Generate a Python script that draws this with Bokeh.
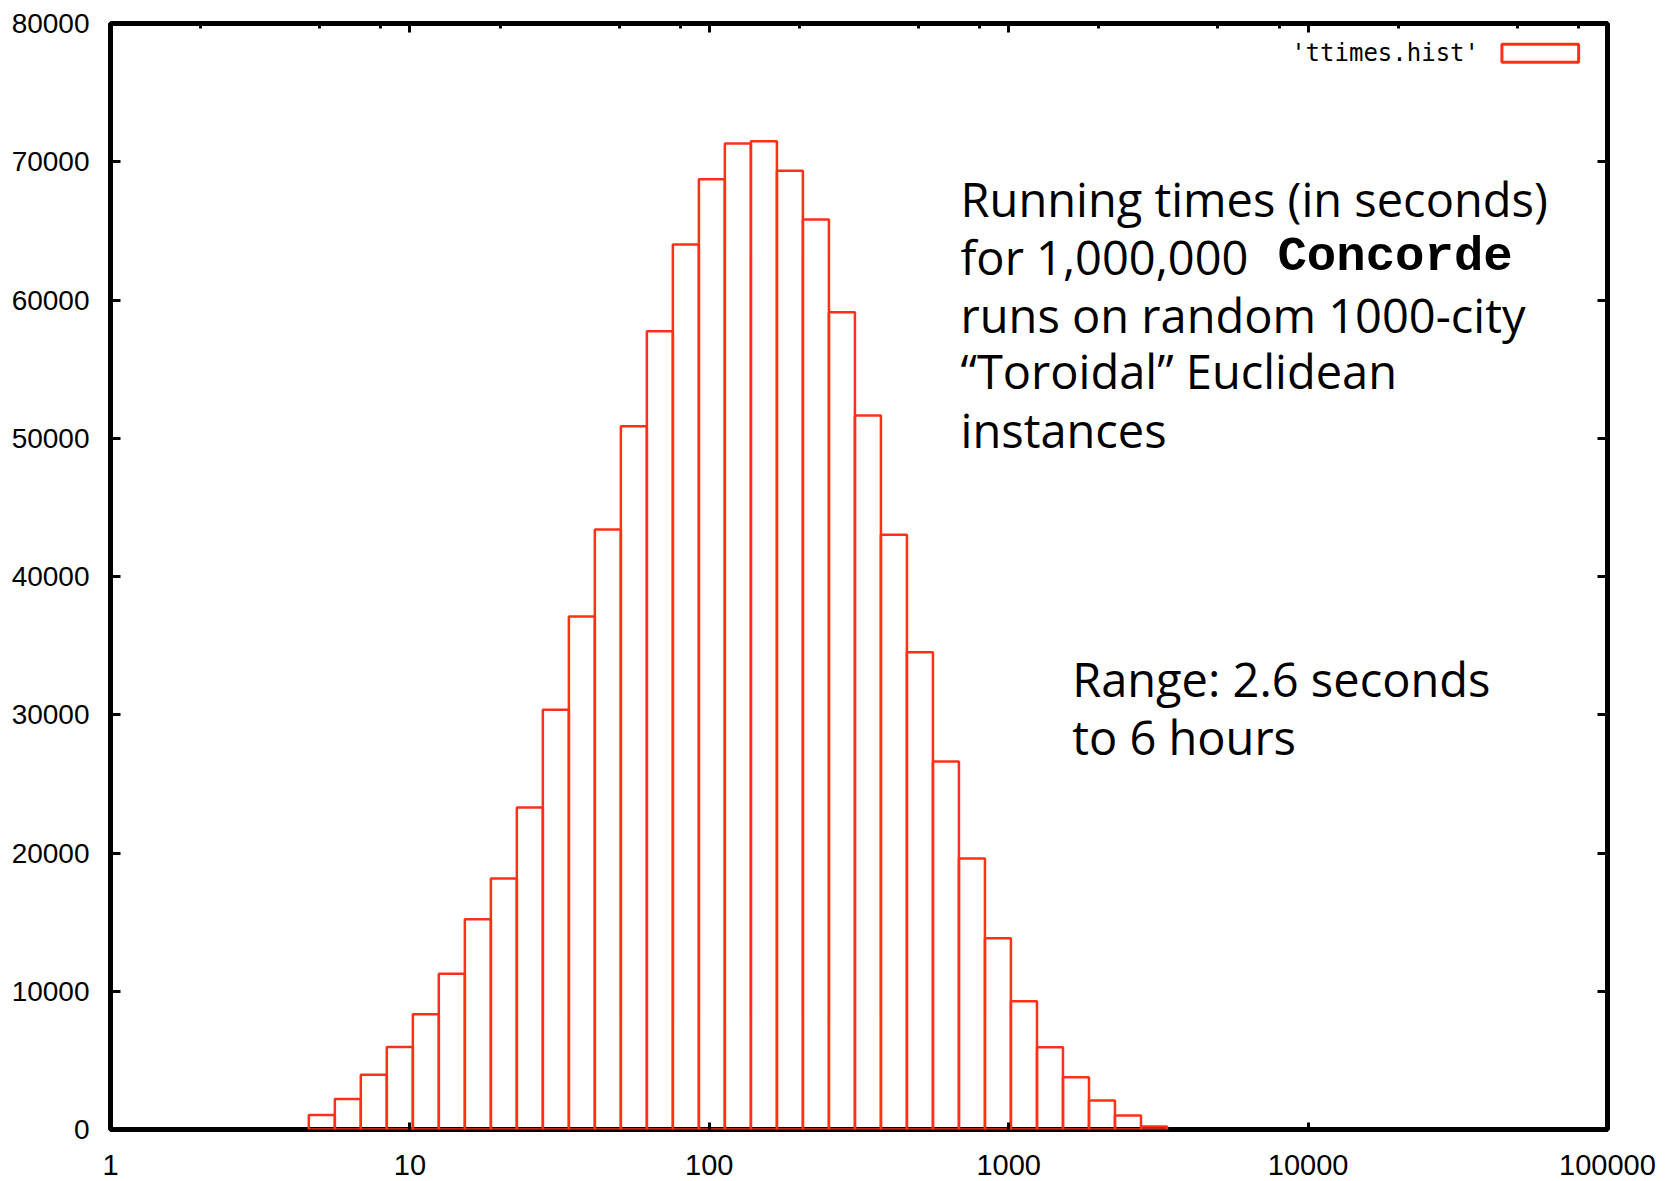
from bokeh.plotting import figure
from bokeh.models import (Range1d, FixedTicker, LogAxis, LinearAxis, NumeralTickFormatter,
                          CustomJSTickFormatter, Label, BoxAnnotation, ColumnDataSource)
from bokeh.embed import file_html
from bokeh.resources import INLINE

# ---- data ----
# histogram bin edges in seconds (log-spaced bins)
bin_edges = [4.596, 5.614, 6.855, 8.373, 10.23, 12.49, 15.26, 18.64, 22.76, 27.80,
             33.96, 41.47, 50.65, 61.87, 75.56, 92.30, 112.7, 137.7, 168.2, 205.4,
             250.9, 306.5, 374.3, 457.1, 558.4, 682.0, 833.0, 1017.0, 1243.0, 1518.0,
             1854.0, 2264.0, 2766.0, 3378.0]
# counts per bin
counts = [1040, 2200, 3960, 5970, 8330, 11270, 15200, 18160, 23300, 30360,
          37100, 43400, 50860, 57740, 64020, 68740, 71320, 71490, 69340, 65820,
          59120, 51640, 43020, 34520, 26620, 19610, 13840, 9280, 5950, 3780,
          2100, 1010, 220]

x_major_ticks = [1, 10, 100, 1000, 10000, 100000]
x_minor_mult = [2, 5, 8]
y_ticks = [0, 10000, 20000, 30000, 40000, 50000, 60000, 70000, 80000]
series_name = "'ttimes.hist'"

RED = "#ff3019"

src = ColumnDataSource(dict(left=bin_edges[:-1], right=bin_edges[1:],
                            top=counts, bottom=[0] * len(counts)))

p = figure(width=1669, height=1181, x_axis_type="log",
           x_range=Range1d(1, 100000), y_range=Range1d(0, 80000),
           output_backend="svg", toolbar_location=None,
           min_border_left=110, min_border_right=62, min_border_top=23, min_border_bottom=52)
p.grid.visible = False
p.background_fill_color = "white"
p.border_fill_color = "white"
p.outline_line_color = "black"
p.outline_line_width = 5
p.outline_line_alpha = 1.0

p.quad(left="left", right="right", top="top", bottom="bottom", source=src,
       fill_color="white", fill_alpha=0.0, line_color=RED, line_width=2.5)

tick_font = "Liberation Sans"

# bottom axis
xa = p.xaxis[0]
xa.ticker = FixedTicker(ticks=x_major_ticks, minor_ticks=[])
xa.formatter = NumeralTickFormatter(format="0")
xa.axis_line_color = None
xa.major_tick_in = 7
xa.major_tick_out = 0
xa.major_tick_line_width = 3
xa.minor_tick_in = 0
xa.minor_tick_out = 0
xa.major_label_standoff = 25
xa.major_label_text_font = tick_font
xa.major_label_text_font_size = "29px"
xa.major_label_text_color = "black"

# left axis
ya = p.yaxis[0]
ya.ticker = FixedTicker(ticks=y_ticks)
ya.formatter = NumeralTickFormatter(format="0")
ya.axis_line_color = None
ya.major_tick_in = 10
ya.major_tick_out = 0
ya.major_tick_line_width = 3
ya.minor_tick_in = 0
ya.minor_tick_out = 0
ya.major_label_standoff = 21
ya.major_label_text_font = tick_font
ya.major_label_text_font_size = "28px"
ya.major_label_text_color = "black"

# top axis (ticks only)
minor_x = [m * t for t in x_major_ticks[:-1] for m in x_minor_mult]
top_ax = LogAxis(ticker=FixedTicker(ticks=x_major_ticks, minor_ticks=minor_x),
                 formatter=CustomJSTickFormatter(code="return '';"),
                 axis_line_color=None, major_tick_in=9, major_tick_out=0,
                 major_tick_line_width=3, minor_tick_in=5, minor_tick_out=0,
                 minor_tick_line_width=3, major_label_standoff=0)
p.add_layout(top_ax, "above")

# right axis (ticks only)
right_ax = LinearAxis(ticker=FixedTicker(ticks=y_ticks),
                      formatter=CustomJSTickFormatter(code="return '';"),
                      axis_line_color=None, major_tick_in=10, major_tick_out=0,
                      major_tick_line_width=3, minor_tick_in=0, minor_tick_out=0,
                      major_label_standoff=0)
p.add_layout(right_ax, "right")

# legend (label then swatch, as in gnuplot)
p.add_layout(Label(x=37220, y=77900, text=series_name, text_align="right",
                   text_baseline="middle", text_font="DejaVu Sans Mono",
                   text_font_size="24px", text_color="black"))
p.add_layout(BoxAnnotation(left=44400, right=80100, bottom=77200, top=78500,
                           fill_alpha=0.0, line_color=RED, line_width=3, line_alpha=1.0))

# annotations
ann_font = "Open Sans"
ann_size = "47px"
lines = [("Running times (in seconds)", 690.5, 67340),
         ("for 1,000,000", 690.5, 63110),
         ("runs on random 1000-city", 690.5, 58950),
         ("\u201cToroidal\u201d Euclidean", 690.5, 54870),
         ("instances", 690.5, 50630),
         ("Range: 2.6 seconds", 1629, 32620),
         ("to 6 hours", 1629, 28380)]
for txt, xx, yy in lines:
    p.add_layout(Label(x=xx, y=yy, text=txt, text_align="left", text_baseline="middle",
                       text_font=ann_font, text_font_size=ann_size, text_color="black"))
p.add_layout(Label(x=7900, y=63110, text="Concorde", text_align="left", text_baseline="middle",
                   text_font="Liberation Mono", text_font_style="bold",
                   text_font_size="49px", text_color="black"))

open("out.html", "w").write(file_html(p, INLINE))
